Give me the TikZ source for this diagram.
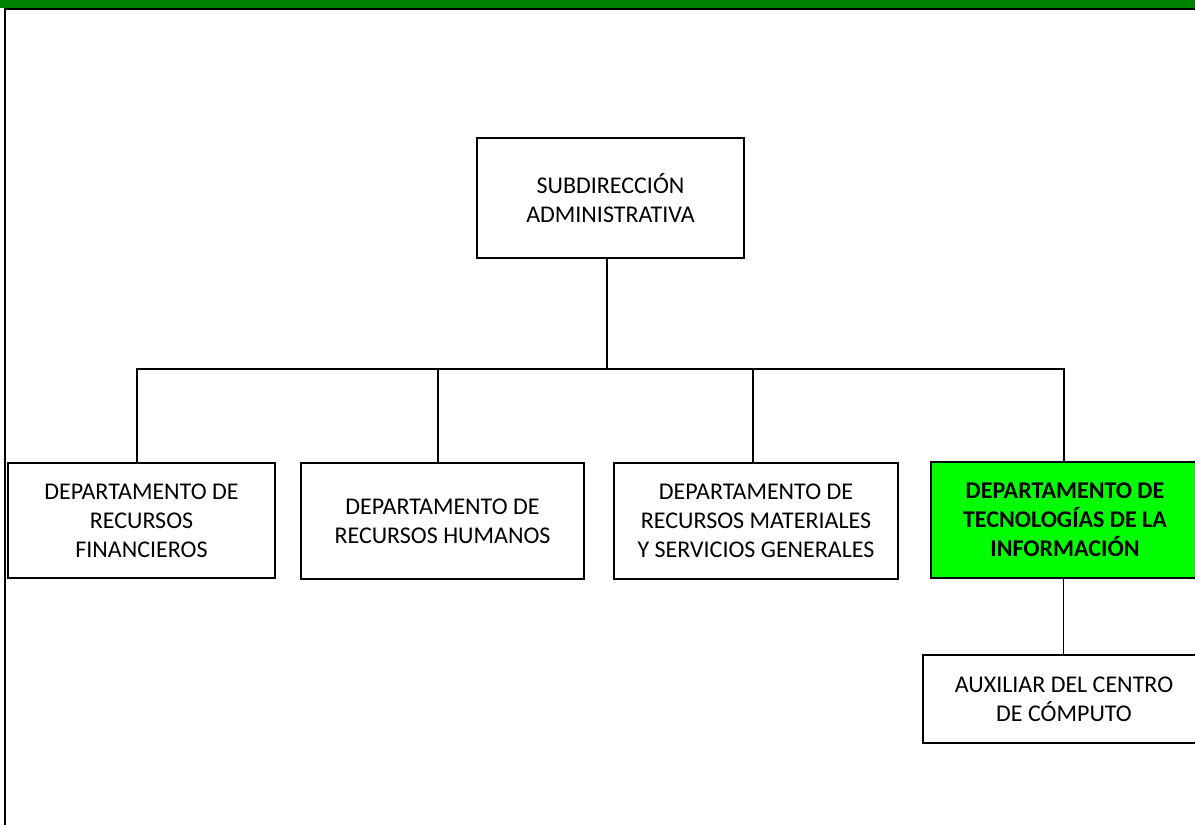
\documentclass[tikz,border=0pt]{standalone}
\usepackage{fontspec}
\setmainfont{Carlito}
\definecolor{barGreen}{HTML}{008000}
\definecolor{limeFill}{HTML}{00FF00}
\begin{document}
\begin{tikzpicture}[x=1pt,y=-1pt,
  orgbox/.style={draw=black,line width=1.8pt,fill=white,inner sep=0pt,
    align=center,font=\fontsize{24}{29}\selectfont},
  link/.style={line width=1.8pt,draw=black},
]
\useasboundingbox (0,0) rectangle (1195,825);
\begin{scope}
\clip (0,0) rectangle (1195,825);

% header bar and frame
\fill[barGreen] (0,0) rectangle (1195,7.5);
\draw[line width=2pt] (4,8.5) -- (1200,8.5);
\draw[line width=2pt] (5,7.5) -- (5,825);

% boxes
\node[orgbox,minimum width=267pt,minimum height=120pt] (top) at (610.5,198)
  {SUBDIRECCIÓN\\ADMINISTRATIVA};
\node[orgbox,minimum width=267pt,minimum height=115pt] (d1) at (141.5,520.5)
  {DEPARTAMENTO DE\\RECURSOS\\FINANCIEROS};
\node[orgbox,minimum width=283pt,minimum height=116pt] (d2) at (442.5,521)
  {DEPARTAMENTO DE\\RECURSOS HUMANOS};
\node[orgbox,minimum width=284pt,minimum height=116pt] (d3) at (756,521)
  {DEPARTAMENTO DE\\RECURSOS MATERIALES\\Y SERVICIOS GENERALES};
\node[orgbox,fill=limeFill,minimum width=268pt,minimum height=116pt,
  font=\fontsize{24}{29}\selectfont\bfseries] (d4) at (1065,520)
  {DEPARTAMENTO DE\\TECNOLOGÍAS DE LA\\INFORMACIÓN};
\node[orgbox,minimum width=282pt,minimum height=88pt] (aux) at (1064,699)
  {AUXILIAR DEL CENTRO\\DE CÓMPUTO};

% connectors
\coordinate (bus) at (607,369);
\draw[link] ([xshift=-3.5pt]top.south) -- ([xshift=-3.5pt]top.south |- bus);
\draw[link] ([xshift=-4.5pt]d1.north) -- ([xshift=-4.5pt]d1.north |- bus)
  -- ([xshift=-1pt]d4.north |- bus) -- ([xshift=-1pt]d4.north);
\draw[link] ([xshift=-4.5pt]d2.north) -- ([xshift=-4.5pt]d2.north |- bus);
\draw[link] ([xshift=-3pt]d3.north) -- ([xshift=-3pt]d3.north |- bus);
\draw[link] ([xshift=-1.5pt]d4.south) -- ([xshift=-1.5pt]d4.south |- aux.north);
\end{scope}
\end{tikzpicture}
\end{document}
